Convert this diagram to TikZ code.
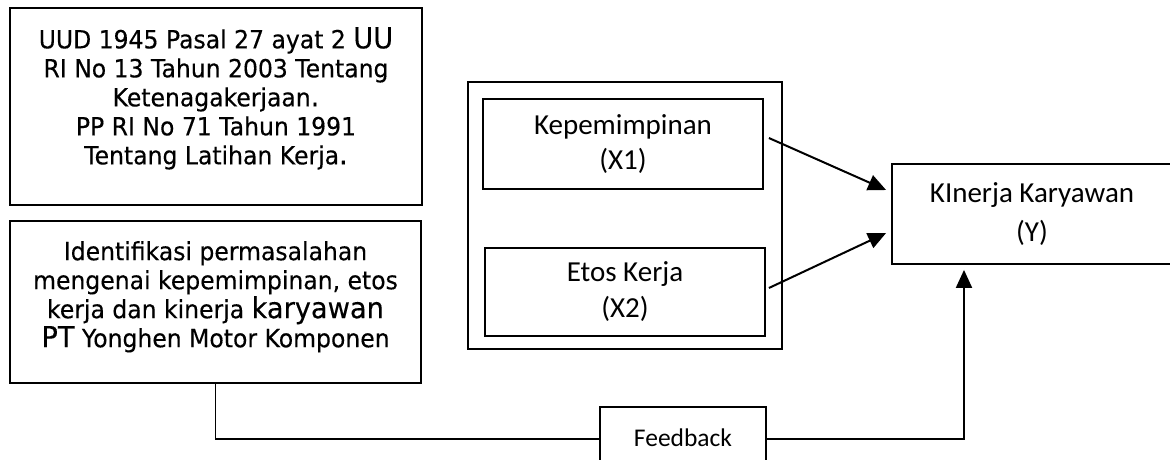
\documentclass[tikz,border=0pt]{standalone}
\usepackage{fontspec}
\setmainfont{Carlito}
\newfontfamily\tahomalike[FakeStretch=0.94,FakeBold=0.3]{DejaVu Sans}
\usetikzlibrary{arrows.meta}
% larger words inside the left-hand boxes
\newcommand\lgword[1]{{\fontsize{29}{29}\selectfont #1}}

\begin{document}
\begin{tikzpicture}[x=1pt,y=-1pt,
  box/.style={draw, rectangle, inner sep=0pt, line width=1.8pt},
  ltxt/.style={align=center, inner sep=0pt, font=\tahomalike\fontsize{25}{29}\selectfont},
  rtxt/.style={align=center, inner sep=0pt, font=\fontsize{29}{35}\selectfont},
  arr/.style={-{Triangle[length=18pt,width=16pt]}, line width=2pt},
  link/.style={line width=1.8pt}]
\fill[white] (0,0) rectangle (1170,459);
\useasboundingbox (0,0) rectangle (1170,459);
\clip (0,0) rectangle (1170,459);

% legal basis
\node[box, minimum width=412pt, minimum height=197pt] (uud) at (216,106.5) {};
\node[ltxt, anchor=north] (uudtxt) at (216,27)
  {UUD 1945 Pasal 27 ayat 2 \lgword{UU}\\
   RI No 13 Tahun 2003 Tentang\\
   Ketenagakerjaan\lgword{.}\\
   PP RI No 71 Tahun 1991\\
   Tentang Latihan Kerja\lgword{.}};

% problem identification
\node[box, minimum width=411pt, minimum height=162pt] (idt) at (215.5,302) {};
\node[ltxt, anchor=north] (idttxt) at (215.5,241)
  {Identifikasi permasalahan\\
   mengenai kepemimpinan, etos\\
   kerja dan kinerja \lgword{karyawan}\\
   \lgword{PT} Yonghen Motor Komponen};

% independent variables
\node[box, minimum width=314pt, minimum height=267pt] (vars) at (625,215.5) {};
\node[box, rtxt, minimum width=280pt, minimum height=90pt] (x1) at (623,144) {Kepemimpinan\\(X1)};
\node[box, rtxt, minimum width=280pt, minimum height=88pt] (x2) at (625,292) {Etos Kerja\\[1pt](X2)};

% dependent variable
\node[box, rtxt, minimum width=280pt, minimum height=100pt] (kin) at (1032,214) {KInerja Karyawan\\[4pt](Y)};

% feedback
\node[box, minimum width=166pt, minimum height=64pt, inner sep=0pt,
      font=\fontsize{25.5}{30}\selectfont] (fb) at (683,439) {\raisebox{3pt}{Feedback}};

% connectors
\draw[arr] ([xshift=5pt,yshift=6pt]x1.east) -- ([xshift=-5pt,yshift=24pt]kin.west);
\draw[arr] ([xshift=3pt,yshift=4pt]x2.east) -- ([xshift=-5pt,yshift=-19pt]kin.west);
\draw[link] (idt.south) |- (fb.west);
\draw[arr] (fb.east) -| ([xshift=-68pt,yshift=-5pt]kin.south);
\end{tikzpicture}
\end{document}
